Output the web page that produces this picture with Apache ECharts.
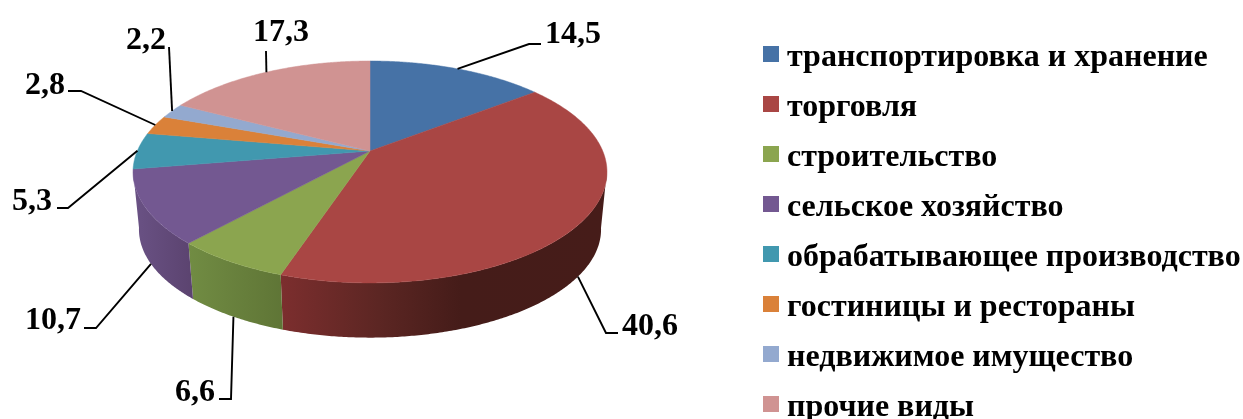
<!DOCTYPE html>
<html>
<head>
<meta charset="utf-8">
<style>
  html, body { margin: 0; padding: 0; background: #fff; }
  #chart { width: 1243px; height: 419px; }
</style>
<script src="https://cdn.jsdelivr.net/npm/echarts@6/dist/echarts.min.js"></script>
</head>
<body>
<div id="chart"></div>
<script>
const categories = [
  "транспортировка и хранение",
  "торговля",
  "строительство",
  "сельское хозяйство",
  "обрабатывающее производство",
  "гостиницы и рестораны",
  "недвижимое имущество",
  "прочие виды",
];
const shares = [14.5, 40.6, 6.6, 10.7, 5.3, 2.8, 2.2, 17.3];
const shareLabels = ["14,5", "40,6", "6,6", "10,7", "5,3", "2,8", "2,2", "17,3"];

const topColors = ["#4672a6", "#a94644", "#8ba54f", "#735891", "#4198af", "#da8139", "#93a9cf", "#d09392"];
// wall gradient, left to right
const wallStops = [
  [[0, "#35557c"], [1, "#2a4463"]],
  [[0, "#7c2e2e"], [0.3, "#5c2623"], [0.55, "#451c19"], [1, "#461c19"]],
  [[0, "#718c43"], [1, "#5f7536"]],
  [[0, "#6a5285"], [1, "#5b436f"]],
  [[0, "#2f7385"], [1, "#2a6474"]],
  [[0, "#a8632a"], [1, "#8f5424"]],
  [[0, "#7084a4"], [1, "#5f7290"]],
  [[0, "#a07070"], [1, "#8a6060"]],
];

// where each label sits and the bend of its leader line (elbow points, label side last)
const labelPos = [[545, 35], [622, 327], [175, 393], [25, 321], [12, 202], [25, 86], [126, 41], [253, 33]];
const leaderBends = [
  [[529, 44], [541, 44]],
  [[606, 333], [618, 333]],
  [[231, 399], [219, 399]],
  [[96, 328], [84, 328]],
  [[68, 208], [57, 208]],
  [[81, 91], [68, 91]],
  [[169, 47]],
  [[266, 51]],
];

// disc geometry: perspective view of a circle
const cx = 370, cy = 151;
const discA = 232.7, discB = 107, tilt = 0.189;
const floorScale = 0.975, floorY = 209;
const wallFrom = 100, wallTo = 260;
const serifFamily = "'Liberation Serif', 'Times New Roman', serif";
const labelFont = "bold 32px " + serifFamily;

const total = shares.reduce((a, b) => a + b, 0);

function sliceAngles(i) {
  let before = 0;
  for (let k = 0; k < i; k++) before += shares[k];
  return [(before / total) * 360, ((before + shares[i]) / total) * 360];
}

function rimPoint(deg, onFloor) {
  const t = (deg * Math.PI) / 180;
  const u = Math.sin(t), v = -Math.cos(t);
  const d = 1 - tilt * v;
  const x = (discA * u) / d, y = (discB * v) / d;
  if (onFloor) return [cx + x * floorScale, floorY + y * floorScale];
  return [cx + x, cy + y];
}

function arcPoints(a0, a1, onFloor) {
  const pts = [];
  const steps = Math.max(2, Math.ceil((a1 - a0) * 2));
  for (let s = 0; s <= steps; s++) {
    pts.push(rimPoint(a0 + ((a1 - a0) * s) / steps, onFloor));
  }
  return pts;
}

function renderSlice(params) {
  const i = params.seriesIndex;
  const [a0, a1] = sliceAngles(i);
  const children = [];

  // side wall, only the part that faces the viewer
  const w0 = Math.max(a0, wallFrom), w1 = Math.min(a1, wallTo);
  if (w1 > w0) {
    const wall = arcPoints(w0, w1, false).concat(arcPoints(w0, w1, true).reverse());
    children.push({
      type: "polygon",
      z2: 1,
      shape: { points: wall },
      style: {
        fill: new echarts.graphic.LinearGradient(0, 0, 1, 0,
          wallStops[i].map(s => ({ offset: s[0], color: s[1] }))),
      },
    });
  }

  // top face
  children.push({
    type: "polygon",
    z2: 2,
    shape: { points: [[cx, cy]].concat(arcPoints(a0, a1, false)) },
    style: { fill: topColors[i], stroke: topColors[i], lineWidth: 0.5 },
  });

  // leader line starts at the middle of the rim
  const mid = (a0 + a1) / 2;
  const nearSide = -Math.cos((mid * Math.PI) / 180) > 0.2;
  children.push({
    type: "polyline",
    z2: 3,
    shape: { points: [rimPoint(mid, nearSide)].concat(leaderBends[i]) },
    style: { stroke: "#000", lineWidth: 1.9, fill: null },
  });
  children.push({
    type: "text",
    z2: 3,
    style: {
      text: shareLabels[i],
      x: labelPos[i][0],
      y: labelPos[i][1],
      align: "left",
      verticalAlign: "middle",
      font: labelFont,
      fill: "#000",
    },
  });

  return { type: "group", children: children };
}

const chart = echarts.init(document.getElementById("chart"), null, { renderer: "canvas" });
chart.setOption({
  animation: false,
  backgroundColor: "#fff",
  legend: {
    orient: "vertical",
    left: 763,
    top: 34,
    height: 460,
    padding: 0,
    itemWidth: 16,
    itemHeight: 16,
    itemGap: 10,
    icon: "rect",
    selectedMode: false,
    data: categories,
    formatter: "{t|{name}}",
    textStyle: {
      padding: [0, 0, 0, 3],
      rich: {
        // top padding drops the letters below the swatch centre
        t: {
          fontFamily: serifFamily,
          fontWeight: "bold",
          fontSize: 32,
          color: "#000",
          lineHeight: 32,
          padding: [8, 0, 0, 0],
        },
      },
    },
  },
  series: categories.map((name, i) => ({
    type: "custom",
    name: name,
    coordinateSystem: "none",
    silent: true,
    clip: false,
    itemStyle: { color: topColors[i] },
    data: [[shares[i]]],
    renderItem: renderSlice,
  })),
});
</script>
</body>
</html>
